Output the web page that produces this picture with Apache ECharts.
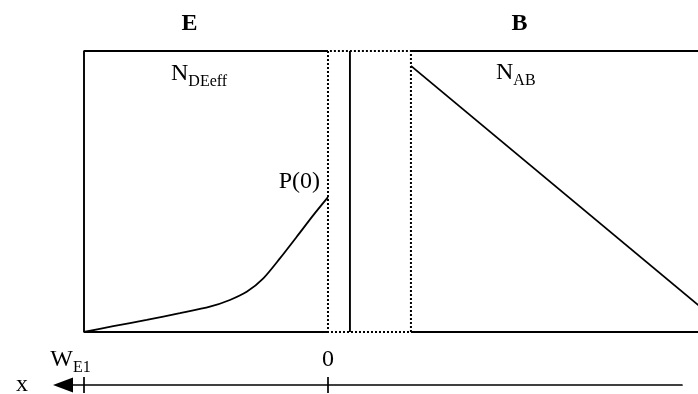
<!DOCTYPE html>
<html>
<head>
<meta charset="utf-8">
<script src="https://cdn.jsdelivr.net/npm/echarts@6/dist/echarts.min.js"></script>
<style>
  html, body { margin: 0; padding: 0; background: #fff; }
  #chart { width: 698px; height: 394px; }
</style>
</head>
<body>
<div id="chart"></div>
<script>
// Position x runs toward the emitter contact: 0 at the emitter edge of the
// depletion region, W_E1 = 100 at the contact; negative x lies in the base.
// Concentrations are in % of the full plot height.
const xTicks = [0, 100];                       // 0 and W_E1
const emitterX = [100, 88, 74.3, 60.7, 48.4, 40.2, 33.3, 26.5, 19.7, 12.8, 6.0, 0];
const emitterP = [0, 2.1, 4.3, 6.7, 9.0, 11.4, 14.3, 19.1, 26.2, 33.9, 41.6, 48];
const baseX = [-34, -152];
const baseN = [94.7, 9.4];
const depletionEdges = [0, -34];               // emitter side, base side
const junctionX = -9;
const levelRange = [0, 100];                   // bottom and top of the plot box
const xRange = [-166, 100];                    // base side runs past the right edge
const axisRange = [-145.1, 108.6];             // extent of the x arrow axis

const FONT = '"Liberation Serif", "Times New Roman", serif';
const INK = '#000';

const [lo, hi] = levelRange;
const [dE, dB] = depletionEdges;
const wE1 = xTicks[1];

function seg(points, type, width) {
  return {
    type: 'line', xAxisIndex: 0, yAxisIndex: 0,
    data: points, symbol: 'none', clip: false, silent: true,
    lineStyle: { color: INK, width: width || 1.9, type: type || 'solid', cap: 'butt' }
  };
}

const subRich = {
  m: { fontFamily: FONT, fontSize: 24, lineHeight: 32, color: INK },
  s: { fontFamily: FONT, fontSize: 16, lineHeight: 16, padding: [16, 0, 0, 0], color: INK }
};

const chart = echarts.init(document.getElementById('chart'), null, { renderer: 'canvas' });

chart.setOption({
  animation: false,
  backgroundColor: '#fff',
  grid: [
    { left: 84, top: 51, width: 649, height: 281, outerBoundsMode: 'none', containLabel: false },
    { left: 63, top: 377, width: 619, height: 16, outerBoundsMode: 'none', containLabel: false }
  ],
  xAxis: [
    { type: 'value', gridIndex: 0, min: xRange[0], max: xRange[1], inverse: true, show: false },
    {
      type: 'value', gridIndex: 1, min: axisRange[0], max: axisRange[1], inverse: true,
      splitLine: { show: false },
      axisTick: { show: false },
      axisLine: {
        show: true, onZero: true,
        symbol: ['triangle', 'none'], symbolSize: [15, 20],
        lineStyle: { color: INK, width: 1.7 }
      },
      axisLabel: {
        inside: true, margin: 17,
        customValues: xTicks,
        formatter: v => (v === 0 ? '{m|0}' : '{m|W}{w|E1}'),
        rich: {
          m: subRich.m,
          w: Object.assign({}, subRich.s, { padding: [16, 27, 0, 0] })
        }
      },
      name: 'x', nameLocation: 'end', nameGap: 35,
      nameTextStyle: { fontFamily: FONT, fontSize: 24, color: INK }
    }
  ],
  yAxis: [
    { type: 'value', gridIndex: 0, min: lo, max: hi, show: false },
    { type: 'value', gridIndex: 1, min: -1, max: 1, show: false }
  ],
  series: [
    // emitter box (solid)
    seg([[dE, lo], [wE1, lo], [wE1, hi], [dE, hi]]),
    // depletion region (dotted)
    seg([[dE, hi], [dE, lo], [dB, lo], [dB, hi], [dE, hi]], [2, 2], 2),
    // base box top and bottom (solid)
    seg([[dB, hi], [xRange[0], hi]]),
    seg([[dB, lo], [xRange[0], lo]]),
    // metallurgical junction
    seg([[junctionX, lo], [junctionX, hi]]),
    // minority carriers in the emitter
    {
      type: 'line', xAxisIndex: 0, yAxisIndex: 0,
      data: emitterX.map((x, i) => [x, emitterP[i]]),
      symbol: 'none', smooth: 0.25, clip: false, silent: true,
      lineStyle: { color: INK, width: 1.8 }
    },
    // base doping profile
    {
      type: 'line', xAxisIndex: 0, yAxisIndex: 0,
      data: baseX.map((x, i) => [x, baseN[i]]),
      symbol: 'none', clip: false, silent: true,
      lineStyle: { color: INK, width: 1.8 }
    },
    // tick marks crossing the x arrow
    {
      type: 'line', xAxisIndex: 1, yAxisIndex: 1,
      data: xTicks.map(v => [v, 0]),
      symbol: 'none', silent: true,
      lineStyle: { width: 0, opacity: 0 },
      markLine: {
        silent: true, symbol: 'none', animation: false,
        label: { show: false },
        lineStyle: { color: INK, width: 1.7, type: 'solid' },
        data: xTicks.map(v => ({ xAxis: v }))
      }
    }
  ],
  graphic: [
    { type: 'text', x: 189.5, y: 23.5, silent: true,
      style: { text: 'E', font: 'bold 24px ' + FONT, fill: INK, align: 'center', verticalAlign: 'middle' } },
    { type: 'text', x: 519.5, y: 23.5, silent: true,
      style: { text: 'B', font: 'bold 24px ' + FONT, fill: INK, align: 'center', verticalAlign: 'middle' } },
    { type: 'text', x: 171, y: 74, silent: true,
      style: { text: '{m|N}{s|DEeff}', rich: subRich, align: 'left', verticalAlign: 'middle' } },
    { type: 'text', x: 496, y: 73, silent: true,
      style: { text: '{m|N}{s|AB}', rich: subRich, align: 'left', verticalAlign: 'middle' } },
    { type: 'text', x: 320, y: 182, silent: true,
      style: { text: 'P(0)', font: '24px ' + FONT, fill: INK, align: 'right', verticalAlign: 'middle' } }
  ]
});
</script>
</body>
</html>
